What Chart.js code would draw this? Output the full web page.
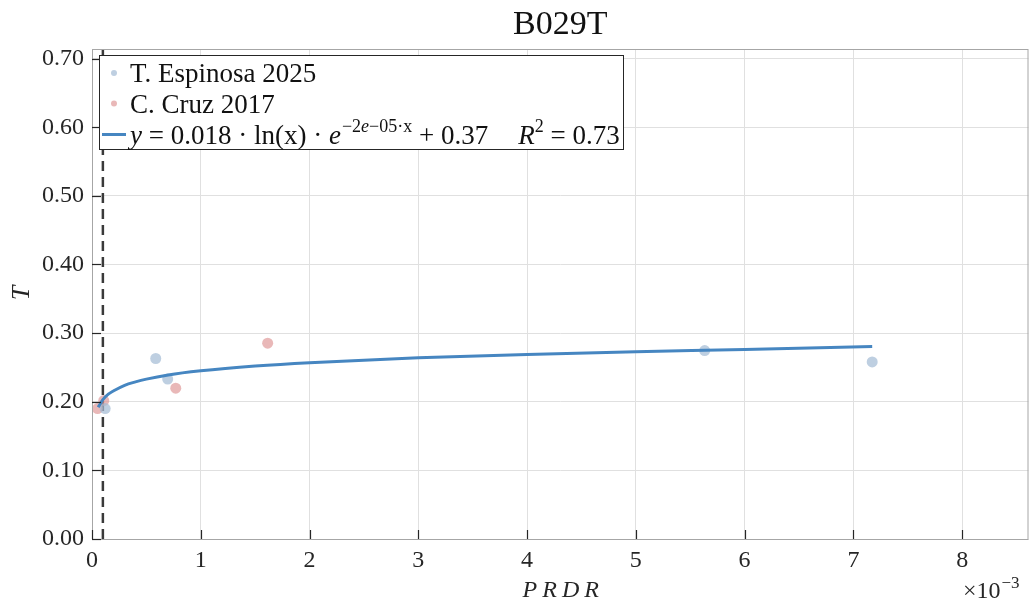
<!DOCTYPE html>
<html>
<head>
<meta charset="utf-8">
<script src="https://cdn.jsdelivr.net/npm/chart.js@4.4.1/dist/chart.umd.min.js"></script>
<style>
  html, body { margin: 0; padding: 0; background: #ffffff; }
  #wrap { width: 1034px; height: 608px; }
</style>
</head>
<body>
<div id="wrap"><canvas id="c" width="1034" height="608"></canvas></div>
<script>
// ---- Data (x in PRDR units) ----
const espinosaX = [0.000121, 0.000586, 0.000696, 0.005633, 0.007173];
const espinosaY = [0.190, 0.263, 0.233, 0.2746, 0.258];
const cruzX = [0.000051, 0.000108, 0.000770, 0.001615];
const cruzY = [0.190, 0.2017, 0.2198, 0.2854];
// fitted curve, values
const fitX = [0.000057, 0.00008, 0.0001, 0.00015, 0.0002, 0.0003, 0.0004, 0.0005, 0.0007, 0.001, 0.0015, 0.002, 0.003, 0.004, 0.005, 0.006, 0.007173];
const fitY = [0.192, 0.198, 0.203, 0.211, 0.216, 0.224, 0.229, 0.233, 0.239, 0.245, 0.252, 0.257, 0.264, 0.269, 0.273, 0.276, 0.2805];
const thresholdX = 0.0001;
const xMin = 0, xMax = 0.00861, xStep = 0.001;
const yMin = 0, yMax = 0.714, yStep = 0.1;
const titleText = 'B029T';
const legendLabels = ['T. Espinosa 2025', 'C. Cruz 2017'];

const SERIF = '"Liberation Serif", "Times New Roman", serif';
const COL_E = 'rgba(165,188,213,0.72)';
const COL_C = 'rgba(222,150,150,0.68)';
const COL_FIT = '#4686c1';

const toPts = (xs, ys) => xs.map((x, i) => ({ x: x, y: ys[i] }));

const decor = {
  id: 'decor',
  afterDraw(chart) {
    const ctx = chart.ctx;
    const a = chart.chartArea;
    const xs = chart.scales.x, ys = chart.scales.y;
    ctx.save();
    // box
    ctx.strokeStyle = '#a6a6a6';
    ctx.lineWidth = 1;
    ctx.strokeRect(a.left + 0.5, a.top + 0.5, a.right - a.left - 1, a.bottom - a.top);
    // inward ticks
    ctx.strokeStyle = '#262626';
    ctx.lineWidth = 1.2;
    xs.ticks.forEach(t => {
      const px = Math.round(xs.getPixelForValue(t.value)) + 0.5;
      ctx.beginPath(); ctx.moveTo(px, a.bottom); ctx.lineTo(px, a.bottom - 9); ctx.stroke();
    });
    ys.ticks.forEach(t => {
      const py = Math.round(ys.getPixelForValue(t.value)) + 0.5;
      ctx.beginPath(); ctx.moveTo(a.left, py); ctx.lineTo(a.left + 9, py); ctx.stroke();
    });
    // title
    ctx.fillStyle = '#111';
    ctx.textAlign = 'center';
    ctx.textBaseline = 'alphabetic';
    ctx.font = '34px ' + SERIF;
    ctx.fillText(titleText, (a.left + a.right) / 2, 34);
    // x label
    ctx.font = 'italic 24px ' + SERIF;
    ctx.letterSpacing = '5px';
    ctx.fillStyle = '#262626';
    ctx.fillText('PRDR', (a.left + a.right) / 2 + 3, 597);
    ctx.letterSpacing = '0px';
    // y label
    ctx.save();
    ctx.translate(29, 293);
    ctx.rotate(-Math.PI / 2);
    ctx.font = 'italic 26px ' + SERIF;
    ctx.textAlign = 'center';
    ctx.fillText('T', 0, 0);
    ctx.restore();
    // exponent
    ctx.textAlign = 'left';
    ctx.font = '24px ' + SERIF;
    ctx.fillText('\u00d710', 963, 598);
    const w10 = ctx.measureText('\u00d710').width;
    ctx.font = '17px ' + SERIF;
    ctx.fillText('\u22123', 963 + w10 + 1, 588);

    // legend
    const lx = 99, ly = 55.5, lw = 524, lh = 94;
    ctx.fillStyle = '#ffffff';
    ctx.fillRect(lx, ly, lw, lh);
    ctx.strokeStyle = '#262626';
    ctx.lineWidth = 1;
    ctx.strokeRect(lx + 0.5, ly, lw, lh);
    const rows = [73, 103.5, 134.5];
    const tx = 130;
    ctx.fillStyle = COL_E;
    ctx.beginPath(); ctx.arc(114, rows[0], 3, 0, Math.PI * 2); ctx.fill();
    ctx.fillStyle = COL_C;
    ctx.beginPath(); ctx.arc(114, rows[1], 3, 0, Math.PI * 2); ctx.fill();
    ctx.strokeStyle = COL_FIT;
    ctx.lineWidth = 3;
    ctx.beginPath(); ctx.moveTo(102, rows[2]); ctx.lineTo(126, rows[2]); ctx.stroke();
    ctx.fillStyle = '#111';
    ctx.font = '27px ' + SERIF;
    ctx.fillText(legendLabels[0], tx, rows[0] + 9);
    ctx.fillText(legendLabels[1], tx, rows[1] + 9);
    // equation
    const base = rows[2] + 9;
    let x = tx;
    const piece = (txt, font, dy) => {
      ctx.font = font;
      ctx.fillText(txt, x, base + (dy || 0));
      x += ctx.measureText(txt).width;
    };
    const F = '27px ' + SERIF, FI = 'italic 27px ' + SERIF, FS = '18px ' + SERIF, FSI = 'italic 18px ' + SERIF;
    piece('y', FI);
    piece(' = 0.018 \u00b7 ln(x) \u00b7 ', F);
    piece('e', FI); x += 1;
    piece('\u22122', FS, -12);
    piece('e', FSI, -12);
    piece('\u221205\u00b7x', FS, -12);
    piece(' + 0.37', F);
    x += 30;
    piece('R', FI);
    piece('2', FS, -12);
    piece(' = 0.73', F);
    ctx.restore();
  }
};

new Chart(document.getElementById('c'), {
  type: 'scatter',
  data: {
    datasets: [
      {
        label: 'fit', type: 'line', data: toPts(fitX, fitY), showLine: true,
        borderColor: COL_FIT, borderWidth: 3, pointRadius: 0, fill: false,
        cubicInterpolationMode: 'monotone', order: 0
      },
      {
        label: legendLabels[0], data: toPts(espinosaX, espinosaY),
        backgroundColor: COL_E, borderWidth: 0, pointRadius: 5.5, order: 1
      },
      {
        label: legendLabels[1], data: toPts(cruzX, cruzY),
        backgroundColor: COL_C, borderWidth: 0, pointRadius: 5.5, order: 2
      },
      {
        label: 'threshold', type: 'line',
        data: [{ x: thresholdX, y: yMin }, { x: thresholdX, y: yMax }], showLine: true,
        borderColor: '#3a3a3a', borderWidth: 2.5, borderDash: [10, 6], pointRadius: 0, fill: false, order: 3
      }
    ]
  },
  options: {
    responsive: false,
    animation: false,
    layout: { padding: { top: 49, right: 5, left: 0, bottom: 0 } },
    plugins: { legend: { display: false }, title: { display: false }, tooltip: { enabled: false } },
    scales: {
      x: {
        type: 'linear', min: xMin, max: xMax,
        afterFit: s => { s.height = 69; },
        grid: { color: '#e0e0e0', drawTicks: false },
        border: { display: false },
        ticks: {
          stepSize: xStep, includeBounds: false, padding: 7,
          font: { family: SERIF, size: 24 }, color: '#262626',
          callback: v => String(Math.round(v * 1000))
        }
      },
      y: {
        type: 'linear', min: yMin, max: yMax,
        afterFit: s => { s.width = 92; },
        grid: { color: '#e0e0e0', drawTicks: false },
        border: { display: false },
        ticks: {
          stepSize: yStep, includeBounds: false, padding: 8,
          font: { family: SERIF, size: 24 }, color: '#262626',
          callback: v => v.toFixed(2)
        }
      }
    }
  },
  plugins: [decor]
});
</script>
</body>
</html>
